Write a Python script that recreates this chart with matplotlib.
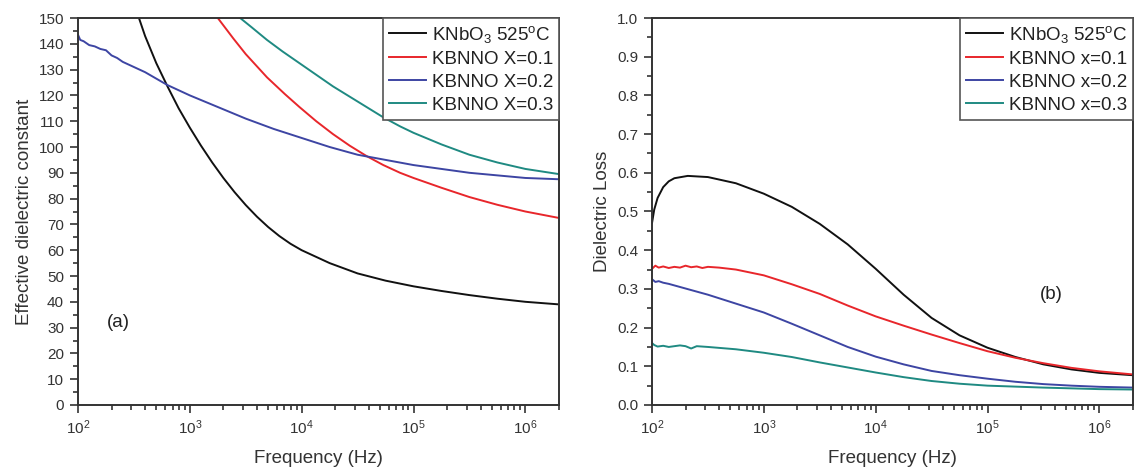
import numpy as np
import matplotlib
matplotlib.use("Agg")
import matplotlib.pyplot as plt
from matplotlib.ticker import LogLocator, MultipleLocator, NullFormatter, FormatStrFormatter

plt.rcParams['font.family'] = ['Liberation Sans', 'DejaVu Sans']
plt.rcParams['mathtext.fontset'] = 'custom'
plt.rcParams['mathtext.rm'] = 'Liberation Sans'
plt.rcParams['mathtext.it'] = 'Liberation Sans:italic'
plt.rcParams['mathtext.bf'] = 'Liberation Sans:bold'

# ---------------- data (log10 frequency, value) ----------------
# (a) effective dielectric constant
a_knbo_logf = [2.545, 2.6, 2.7, 2.8, 2.9, 3.0, 3.1, 3.2, 3.3, 3.4, 3.5, 3.6, 3.7, 3.8, 3.9, 4.0,
               4.25, 4.5, 4.75, 5.0, 5.25, 5.5, 5.75, 6.0, 6.3]
a_knbo_val = [150, 143, 132.5, 123.5, 115, 107.5, 100.5, 94, 88, 82.5, 77.5, 73, 69, 65.5, 62.5, 60,
              55, 51, 48.2, 46, 44.2, 42.6, 41.2, 40, 39]

a_x1_logf = [3.25, 3.39, 3.5, 3.69, 3.85, 3.98, 4.13, 4.28, 4.43, 4.58, 4.73, 4.88, 5.0,
             5.25, 5.5, 5.75, 6.0, 6.3]
a_x1_val = [150, 142, 136, 127, 120.5, 115.5, 110, 105, 100.5, 96.5, 93, 90, 88,
            84.2, 80.6, 77.6, 75, 72.5]

a_x2_logf = [2.0, 2.02, 2.05, 2.1, 2.15, 2.2, 2.25, 2.3, 2.35, 2.4, 2.5, 2.6, 2.7, 2.8, 2.9, 3.0,
             3.25, 3.5, 3.75, 4.0, 4.25, 4.5, 4.75, 5.0, 5.25, 5.5, 5.75, 6.0, 6.3]
a_x2_val = [143.5, 141.5, 141, 139.5, 139, 138, 137.5, 135.5, 134.5, 133, 131, 129, 126.5, 124, 122, 120,
            115.5, 111, 107, 103.5, 100, 97, 95, 93, 91.5, 90, 89, 88, 87.5]

a_x3_logf = [3.45, 3.55, 3.69, 3.83, 3.98, 4.13, 4.28, 4.43, 4.58, 4.73, 4.88, 5.0,
             5.25, 5.5, 5.75, 6.0, 6.3]
a_x3_val = [150, 146.5, 141.5, 137, 132.5, 128, 123.5, 119.5, 115.5, 111.5, 108, 105.5,
            101, 97, 94, 91.5, 89.5]

# (b) dielectric loss
b_knbo_logf = [2.0, 2.02, 2.05, 2.1, 2.15, 2.2, 2.32, 2.5, 2.75, 3.0, 3.25, 3.5, 3.75, 4.0,
               4.25, 4.5, 4.75, 5.0, 5.25, 5.5, 5.75, 6.0, 6.3]
b_knbo_val = [0.47, 0.505, 0.535, 0.563, 0.578, 0.586, 0.592, 0.589, 0.573, 0.546, 0.512, 0.468, 0.415, 0.352,
              0.285, 0.225, 0.18, 0.148, 0.124, 0.105, 0.092, 0.083, 0.077]

b_x1_logf = [2.0, 2.03, 2.06, 2.1, 2.15, 2.2, 2.25, 2.3, 2.35, 2.4, 2.45, 2.5, 2.6, 2.75, 3.0,
             3.25, 3.5, 3.75, 4.0, 4.25, 4.5, 4.75, 5.0, 5.25, 5.5, 5.75, 6.0, 6.3]
b_x1_val = [0.352, 0.36, 0.355, 0.358, 0.354, 0.357, 0.355, 0.36, 0.356, 0.358, 0.354, 0.357, 0.355, 0.35, 0.335,
            0.312, 0.287, 0.257, 0.229, 0.205, 0.182, 0.16, 0.139, 0.122, 0.108, 0.096, 0.087, 0.079]

b_x2_logf = [2.0, 2.03, 2.06, 2.1, 2.15, 2.25, 2.5, 2.75, 3.0, 3.25, 3.5, 3.75, 4.0, 4.25, 4.5,
             4.75, 5.0, 5.25, 5.5, 5.75, 6.0, 6.3]
b_x2_val = [0.325, 0.318, 0.32, 0.316, 0.313, 0.305, 0.285, 0.262, 0.239, 0.21, 0.18, 0.15, 0.125, 0.105, 0.088,
            0.077, 0.068, 0.06, 0.054, 0.05, 0.047, 0.045]

b_x3_logf = [2.0, 2.02, 2.05, 2.1, 2.15, 2.2, 2.25, 2.3, 2.35, 2.4, 2.5, 2.75, 3.0, 3.25, 3.5, 3.75,
             4.0, 4.25, 4.5, 4.75, 5.0, 5.5, 6.0, 6.3]
b_x3_val = [0.16, 0.155, 0.151, 0.153, 0.15, 0.152, 0.154, 0.152, 0.146, 0.152, 0.15, 0.144, 0.135, 0.124, 0.11, 0.097,
            0.084, 0.072, 0.062, 0.055, 0.05, 0.045, 0.041, 0.04]

labels_a = [r'KNbO$_3$ 525$^{\mathrm{o}}$C', 'KBNNO X=0.1', 'KBNNO X=0.2', 'KBNNO X=0.3']
labels_b = [r'KNbO$_3$ 525$^{\mathrm{o}}$C', 'KBNNO x=0.1', 'KBNNO x=0.2', 'KBNNO x=0.3']
colors = ['#111111', '#e8262b', '#3d45a3', '#1f8a82']

# ---------------- figure ----------------
W, H = 1134, 468
fig = plt.figure(figsize=(W / 100, H / 100), dpi=100)
ax1 = fig.add_axes([78 / W, 1 - 405 / H, 481 / W, 387 / H])
ax2 = fig.add_axes([652 / W, 1 - 405 / H, 481 / W, 387 / H])

series_a = [(a_knbo_logf, a_knbo_val), (a_x1_logf, a_x1_val), (a_x2_logf, a_x2_val), (a_x3_logf, a_x3_val)]
series_b = [(b_knbo_logf, b_knbo_val), (b_x1_logf, b_x1_val), (b_x2_logf, b_x2_val), (b_x3_logf, b_x3_val)]

for ax, series, labels in [(ax1, series_a, labels_a), (ax2, series_b, labels_b)]:
    for (lf, v), c, lab in zip(series, colors, labels):
        ax.plot(10 ** np.array(lf), v, color=c, lw=1.4, label=lab, clip_on=True)
    ax.set_xscale('log')
    ax.set_xlim(1e2, 2e6)
    ax.xaxis.set_major_locator(LogLocator(base=10, numticks=10))
    ax.xaxis.set_minor_locator(LogLocator(base=10, subs=np.arange(2, 10), numticks=20))
    ax.xaxis.set_minor_formatter(NullFormatter())
    ax.tick_params(which='both', direction='out', top=False, right=False,
                   colors='#333333', labelcolor='#333333', labelsize=11, width=1.2)
    ax.tick_params(which='major', length=6, pad=4)
    ax.tick_params(which='minor', length=3.5)
    for s in ax.spines.values():
        s.set_color('#333333')
        s.set_linewidth(1.4)
    ax.set_xlabel('Frequency (Hz)', fontsize=13.5, color='#333333', labelpad=9)
    leg = ax.legend(loc='upper right', borderaxespad=0, fontsize=13.5, frameon=True,
                    fancybox=False, edgecolor='#555555', framealpha=1,
                    handlelength=2.0, handletextpad=0.3, borderpad=0.3, labelspacing=0.32)
    leg.get_frame().set_linewidth(1.2)
    for t in leg.get_texts():
        t.set_color('#222222')

ax1.set_ylim(0, 150)
ax1.yaxis.set_major_locator(MultipleLocator(10))
ax1.yaxis.set_minor_locator(MultipleLocator(5))
ax1.set_ylabel('Effective dielectric constant', fontsize=13.5, color='#333333', labelpad=4)
ax1.text(10 ** 2.36, 32, '(a)', fontsize=13.5, color='#222222', ha='center', va='center')

ax2.set_ylim(0, 1.0)
ax2.yaxis.set_major_locator(MultipleLocator(0.1))
ax2.yaxis.set_minor_locator(MultipleLocator(0.05))
ax2.yaxis.set_major_formatter(FormatStrFormatter('%.1f'))
ax2.set_ylabel('Dielectric Loss', fontsize=13.5, color='#333333', labelpad=4)
ax2.text(10 ** 5.57, 0.285, '(b)', fontsize=13.5, color='#222222', ha='center', va='center')

fig.savefig('out.png', dpi=100)
